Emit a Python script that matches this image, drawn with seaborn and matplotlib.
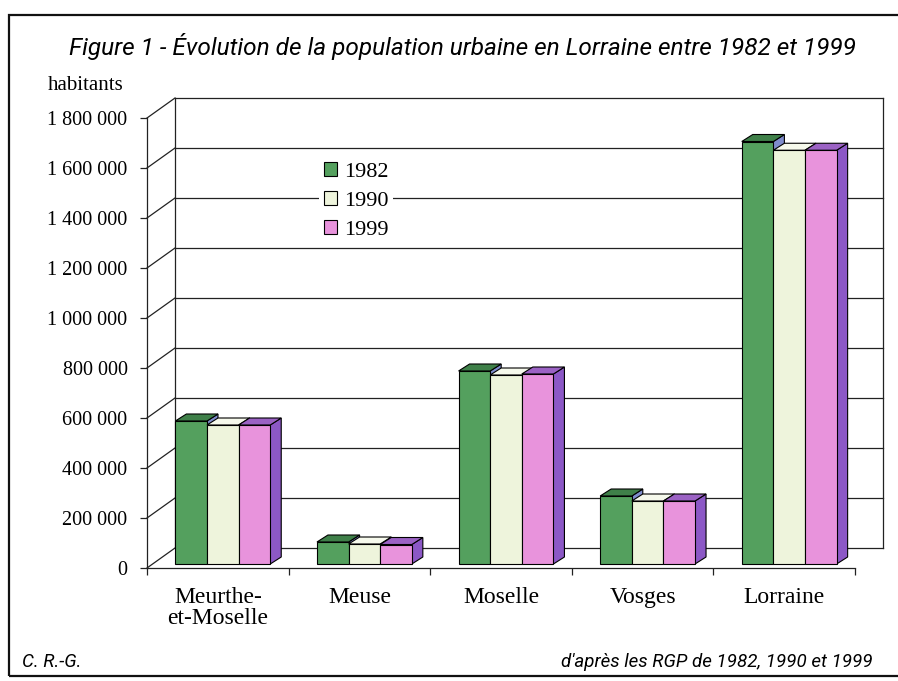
import numpy as np
import pandas as pd
import matplotlib
matplotlib.use("Agg")
import matplotlib.pyplot as plt
import seaborn as sns
from matplotlib.patches import Polygon, Patch, Rectangle
from matplotlib.lines import Line2D
from matplotlib.ticker import FuncFormatter, FixedLocator

# ---------------- data ----------------
regions = ["Meurthe-\net-Moselle", "Meuse", "Moselle", "Vosges", "Lorraine"]
years = ["1982", "1990", "1999"]
pop_1982 = [572000, 88000, 772000, 272000, 1690000]
pop_1990 = [556000, 80000, 756000, 252000, 1655000]
pop_1999 = [556000, 78000, 760000, 252000, 1655000]
yticks = [0, 200000, 400000, 600000, 800000, 1000000, 1200000, 1400000, 1600000, 1800000]

title = "Figure 1 - Évolution de la population urbaine en Lorraine entre 1982 et 1999"
ylabel = "habitants"
credit = "C. R.-G."
source = "d'après les RGP de 1982, 1990 et 1999"

front_colors = ["#54a05e", "#eef4dc", "#e893dc"]
top_colors = ["#3f8049", "#f6f9ec", "#9b62c4"]
side_colors = ["#7f8ccc", "#dfe8c8", "#8c58c6"]

df = pd.DataFrame({
    "region": regions * 3,
    "year": [years[0]] * 5 + [years[1]] * 5 + [years[2]] * 5,
    "value": pop_1982 + pop_1990 + pop_1999,
})

# ---------------- figure ----------------
W, H = 898, 681
fig = plt.figure(figsize=(W / 100, H / 100), dpi=100)
fig.patch.set_facecolor("white")
ax_l, ax_b, ax_w, ax_h = 147, 568, 708, 450   # pixels (left, bottom-from-top, width, height)
ax = fig.add_axes([ax_l / W, 1 - ax_b / H, ax_w / W, ax_h / H])
ax.set_facecolor("none")

sns.barplot(data=df, x="region", y="value", hue="year", palette=front_colors,
            width=0.67, dodge=True, edgecolor="black", linewidth=0.8,
            saturation=1, legend=False, ax=ax, zorder=3)

ax.set_xlim(-0.5, 4.5)
ax.set_ylim(0, 1800000)

# pixel -> data conversions
px_x = 5 / ax_w          # data units per pixel along x
px_y = 1800000 / ax_h    # data units per pixel along y

# back wall / side wall
wall_dx, wall_dy = 28 * px_x, 20 * px_y
line_kw = dict(color="#222222", lw=0.9, clip_on=False, zorder=1)
for v in yticks:
    ax.add_line(Line2D([-0.5 + wall_dx, 4.5 + wall_dx], [v + wall_dy, v + wall_dy], **line_kw))
    ax.add_line(Line2D([-0.5, -0.5 + wall_dx], [v, v + wall_dy], **line_kw))
for xx in (-0.5, 4.5):
    ax.add_line(Line2D([xx + wall_dx, xx + wall_dx], [wall_dy, 1800000 + wall_dy], **line_kw))

# 3D bars
plane_dx, plane_dy = 5 * px_x, 4 * px_y
depth_dx, depth_dy = 11 * px_x, 7 * px_y
bars = []
for k, cont in enumerate(ax.containers):
    for bar in cont:
        bars.append((bar.get_x(), k, bar))
bars.sort(key=lambda t: t[0])
for i, (x0, k, bar) in enumerate(bars):
    w = bar.get_width()
    h = bar.get_height()
    z = 3 + i * 0.03
    fx0, fx1 = x0 + plane_dx, x0 + w + plane_dx
    fy0, fy1 = plane_dy, h + plane_dy
    bar.set_x(fx0)
    bar.set_y(fy0)
    bar.set_zorder(z + 0.02)
    bar.set_clip_on(False)
    side = Polygon([(fx1, fy0), (fx1 + depth_dx, fy0 + depth_dy),
                    (fx1 + depth_dx, fy1 + depth_dy), (fx1, fy1)],
                   closed=True, facecolor=side_colors[k], edgecolor="black",
                   lw=0.8, zorder=z, clip_on=False)
    top = Polygon([(fx0, fy1), (fx0 + depth_dx, fy1 + depth_dy),
                   (fx1 + depth_dx, fy1 + depth_dy), (fx1, fy1)],
                  closed=True, facecolor=top_colors[k], edgecolor="black",
                  lw=0.8, zorder=z + 0.01, clip_on=False)
    ax.add_patch(side)
    ax.add_patch(top)

# axes styling
for s in ("top", "right"):
    ax.spines[s].set_visible(False)
for s in ("left", "bottom"):
    ax.spines[s].set_color("#222222")
    ax.spines[s].set_linewidth(0.9)
    ax.spines[s].set_zorder(2)

serif = ["Liberation Serif", "DejaVu Serif"]
ax.yaxis.set_major_locator(FixedLocator(yticks))
ax.yaxis.set_major_formatter(FuncFormatter(lambda v, p: f"{int(v):,}".replace(",", " ")))
ax.tick_params(axis="y", direction="out", length=5, width=0.9, pad=9, labelsize=14.5,
               color="#222222")
for lab in ax.get_yticklabels():
    lab.set_fontfamily(serif)

ax.set_xticks(range(5))
ax.set_xticklabels(regions, fontfamily=serif, fontsize=17, linespacing=0.95)
ax.tick_params(axis="x", length=0, pad=14)
ax.set_xticks([-0.5, 0.5, 1.5, 2.5, 3.5, 4.5], minor=True)
ax.tick_params(axis="x", which="minor", direction="out", length=5, width=0.9, color="#222222")
ax.set_xlabel("")
ax.set_ylabel("")

# legend
handles = [Patch(facecolor=c, edgecolor="black", lw=0.8) for c in front_colors]
fig.legend(handles, years, loc="center", bbox_to_anchor=(356 / W, 1 - 201 / H),
           frameon=True, facecolor="white", edgecolor="none", fancybox=False,
           framealpha=1, handlelength=0.6, handleheight=0.6, handletextpad=0.3,
           labelspacing=0.42, borderpad=0.2,
           prop={"family": serif, "size": 16})

# texts
fig.text(463 / W, 1 - 47 / H, title, ha="center", va="center",
         fontfamily=["Roboto", "DejaVu Sans"], style="italic", fontsize=17.6)
fig.text(86 / W, 1 - 85 / H, ylabel, ha="center", va="center",
         fontfamily=serif, fontsize=15)
fig.text(22 / W, 1 - 662 / H, credit, ha="left", va="center",
         fontfamily=["Roboto", "DejaVu Sans"], style="italic", fontsize=13.5)
fig.text(873 / W, 1 - 662 / H, source, ha="right", va="center",
         fontfamily=["Roboto", "DejaVu Sans"], style="italic", fontsize=13.5)

# outer frame
fig.add_artist(Rectangle((9 / W, 1 - 676 / H), (W + 5 - 9) / W, (676 - 15) / H,
                         transform=fig.transFigure, fill=False, edgecolor="#111111",
                         lw=1.6, clip_on=False))

fig.savefig("out.png", dpi=100, facecolor="white")
